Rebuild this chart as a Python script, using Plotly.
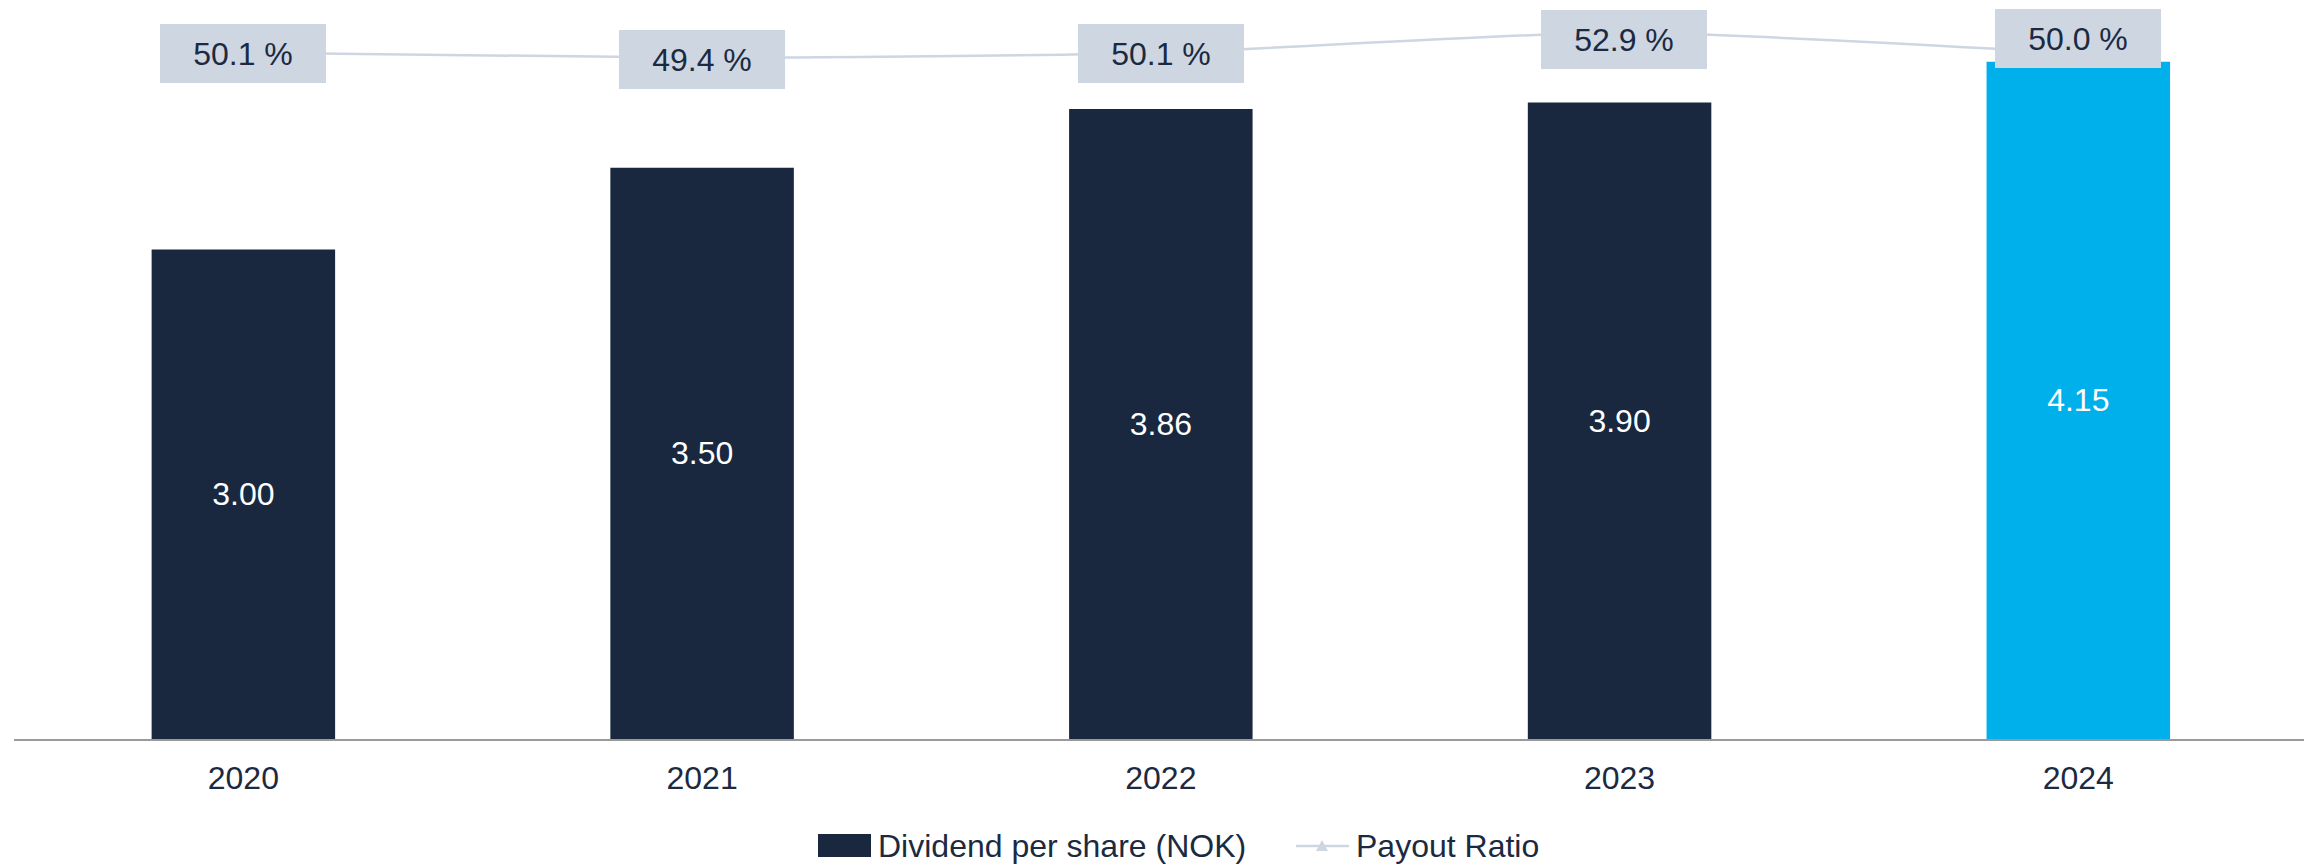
import plotly.graph_objects as go

# Data
years = ["2020", "2021", "2022", "2023", "2024"]
dividend = [3.00, 3.50, 3.86, 3.90, 4.15]
payout = [50.1, 49.4, 50.1, 52.9, 50.0]

# Styling
bar_colors = ["#19283F", "#19283F", "#19283F", "#19283F", "#00B0EA"]
label_bg = "#CED6E2"
text_dark = "#1B2A41"
font_family = "Arial, Liberation Sans, sans-serif"
font_size = 32
label_yshift = [-1, -2, -1, -7, 15]
label_xshift = [0, 0, 0, 4, 0]

# Page geometry (px) used to place the hand-drawn legend
W, H = 2304, 866
M_L, M_R, M_T, M_B = 14, 0, 0, 127
plot_w = W - M_L - M_R
plot_h = H - M_T - M_B


def px_x(px):
    return (px - M_L) / plot_w


def px_y(py):
    return (H - M_B - py) / plot_h


fig = go.Figure()

fig.add_trace(go.Bar(
    x=years,
    y=dividend,
    name="Dividend per share (NOK)",
    marker=dict(color=bar_colors, line=dict(width=0)),
    text=[f"{v:.2f}" for v in dividend],
    textposition="inside",
    insidetextanchor="middle",
    textfont=dict(color="white", size=font_size, family=font_family),
    textangle=0,
    yaxis="y",
))

fig.add_trace(go.Scatter(
    x=years,
    y=payout,
    name="Payout Ratio",
    mode="lines+markers",
    line=dict(color=label_bg, width=2.5, shape="spline", smoothing=0.6),
    marker=dict(symbol="triangle-up", size=12, color=label_bg),
    yaxis="y2",
))

# Boxed value labels on the payout ratio line
for i, v in enumerate(payout):
    fig.add_annotation(
        x=i, y=v, xref="x", yref="y2",
        text=f"{v:.1f} %",
        showarrow=False,
        bgcolor=label_bg,
        width=166, height=59,
        borderpad=0, borderwidth=0,
        font=dict(size=font_size, color=text_dark, family=font_family),
        yshift=label_yshift[i],
        xshift=label_xshift[i],
    )

# Legend: bar swatch, line-with-triangle swatch and their labels
leg_y = 846
fig.add_shape(
    type="rect", xref="paper", yref="paper",
    x0=px_x(818), x1=px_x(871), y0=px_y(857), y1=px_y(834),
    fillcolor=bar_colors[0], line=dict(width=0),
)
fig.add_annotation(
    x=px_x(876), y=px_y(leg_y), xref="paper", yref="paper",
    xanchor="left", yanchor="middle", showarrow=False,
    text="Dividend per share (NOK)",
    font=dict(size=font_size, color=text_dark, family=font_family),
)
fig.add_shape(
    type="line", xref="paper", yref="paper",
    x0=px_x(1296), x1=px_x(1349), y0=px_y(leg_y), y1=px_y(leg_y),
    line=dict(color=label_bg, width=2.5),
)
tx, ty = 1322, leg_y
fig.add_shape(
    type="path", xref="paper", yref="paper",
    path=(f"M {px_x(tx - 6)} {px_y(ty + 5)} L {px_x(tx + 6)} {px_y(ty + 5)} "
          f"L {px_x(tx)} {px_y(ty - 6)} Z"),
    fillcolor=label_bg, line=dict(width=0),
)
fig.add_annotation(
    x=px_x(1354), y=px_y(leg_y), xref="paper", yref="paper",
    xanchor="left", yanchor="middle", showarrow=False,
    text="Payout Ratio",
    font=dict(size=font_size, color=text_dark, family=font_family),
)

fig.update_layout(
    width=W, height=H,
    margin=dict(l=M_L, r=M_R, t=M_T, b=M_B),
    paper_bgcolor="white",
    plot_bgcolor="white",
    bargap=0.6,
    font=dict(family=font_family, size=font_size, color=text_dark),
    showlegend=False,
    xaxis=dict(
        type="category",
        range=[-0.5, 4.492],
        showline=True, linecolor="#9A9A9A", linewidth=2,
        showgrid=False, ticks="",
        ticklabelstandoff=10,
        tickfont=dict(size=font_size, color=text_dark, family=font_family),
        automargin=False,
    ),
    yaxis=dict(
        range=[0, 4.528],
        showgrid=False, zeroline=False, showticklabels=False, showline=False,
    ),
    yaxis2=dict(
        range=[-45.35, 57.43],
        overlaying="y", side="right",
        showgrid=False, zeroline=False, showticklabels=False, showline=False,
    ),
)

fig.write_html("out.html")
